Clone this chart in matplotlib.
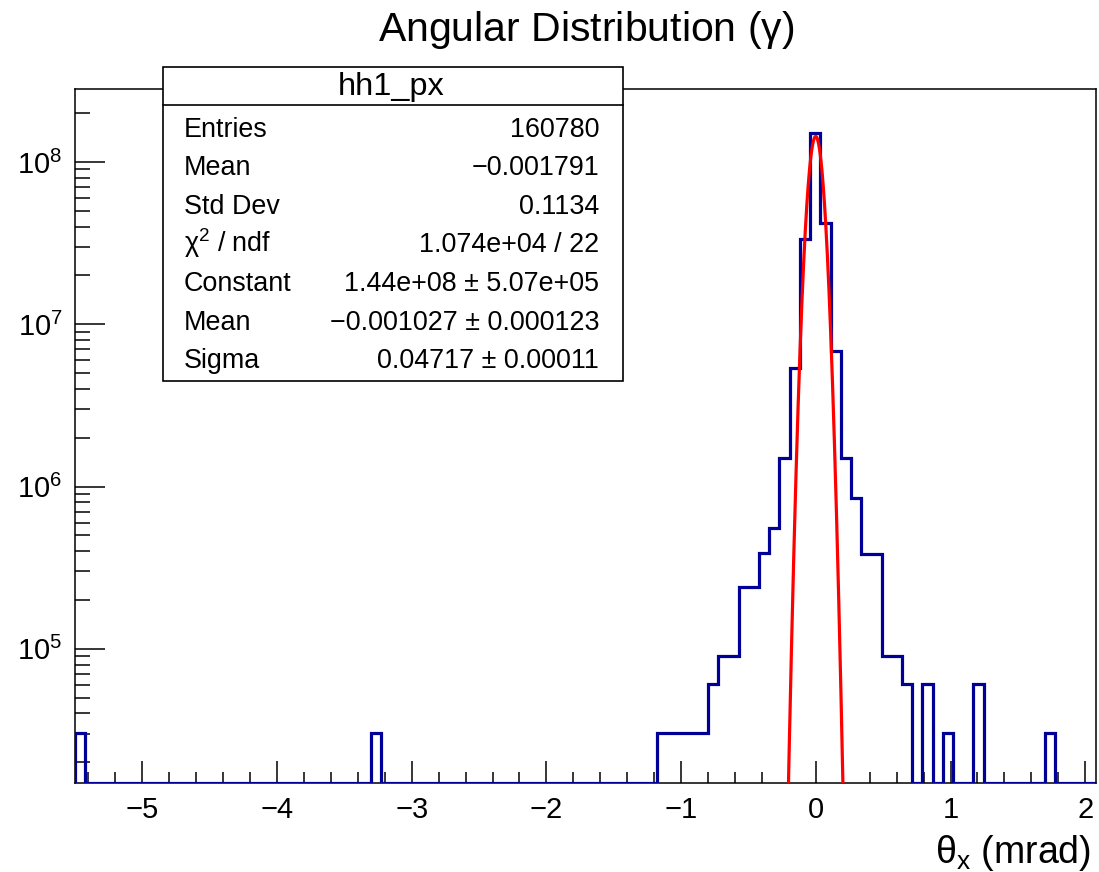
import numpy as np
import matplotlib
matplotlib.use('Agg')
import matplotlib.pyplot as plt
from matplotlib.patches import Rectangle
from matplotlib.lines import Line2D
from matplotlib.ticker import MultipleLocator, LogLocator, NullFormatter

plt.rcParams['font.family'] = ['Liberation Sans', 'DejaVu Sans']
plt.rcParams['mathtext.default'] = 'regular'

# histogram binning of theta_x (mrad)
x_lo, x_hi, n_bins = -5.5, 2.08, 100

# non-empty bins: bin index and weighted content
filled_bins = [0, 29, 57, 58, 59, 60, 61, 62, 63, 64, 65, 66, 67, 68, 69, 70,
               71, 72, 73, 74, 75, 76, 77, 78, 79, 80, 81, 83, 85, 88, 95]
filled_counts = [3.04e4, 3.04e4, 3.04e4, 3.04e4, 3.04e4, 3.04e4, 3.04e4,
                 6.1e4, 9.0e4, 9.0e4, 2.39e5, 2.39e5, 3.92e5, 5.58e5, 1.49e6,
                 5.38e6, 3.36e7, 1.51e8, 4.21e7, 6.81e6, 1.51e6, 8.55e5,
                 3.86e5, 3.86e5, 9.0e4, 9.0e4, 6.1e4, 6.1e4, 3.04e4, 6.1e4,
                 3.04e4]

# gaussian fit result
fit_const = 1.44e8
fit_mean = -0.001027
fit_sigma = 0.04717
fit_range = (-0.22, 0.22)

y_lo, y_hi = 1.49e4, 2.82e8

# stats box
stat_title = 'hh1_px'
stat_names = ['Entries', 'Mean', 'Std Dev', '$\\chi^{2}$ / ndf', 'Constant', 'Mean', 'Sigma']
stat_values = ['160780', '\u22120.001791', '0.1134', '1.074e+04 / 22',
               '1.44e+08 \u00b1 5.07e+05', '\u22120.001027 \u00b1 0.000123',
               '0.04717 \u00b1 0.00011']

W, H = 1099, 872
fig = plt.figure(figsize=(W / 100, H / 100), dpi=100)
ax = fig.add_axes([75 / W, 1 - 783 / H, (1096 - 75) / W, (783 - 89) / H])

edges = np.linspace(x_lo, x_hi, n_bins + 1)
counts = np.zeros(n_bins)
counts[filled_bins] = filled_counts
# empty bins sit on the frame bottom like ROOT draws them
shown = np.maximum(counts, y_lo)
ax.stairs(shown, edges, baseline=y_lo, color='#000099', lw=2.3, zorder=3)

xf = np.linspace(fit_range[0], fit_range[1], 400)
yf = fit_const * np.exp(-0.5 * ((xf - fit_mean) / fit_sigma) ** 2)
ax.plot(xf, yf, color='#ff0000', lw=2.3, zorder=4)

ax.set_yscale('log')
ax.set_xlim(x_lo, x_hi)
ax.set_ylim(y_lo, y_hi)

ax.xaxis.set_major_locator(MultipleLocator(1))
ax.xaxis.set_minor_locator(MultipleLocator(0.2))
ax.yaxis.set_major_locator(LogLocator(base=10))
ax.yaxis.set_minor_locator(LogLocator(base=10, subs=np.arange(2, 10)))
ax.yaxis.set_minor_formatter(NullFormatter())

ax.tick_params(axis='both', which='both', direction='in', top=False, right=False,
               width=1.1, colors='black', labelsize=21)
ax.tick_params(axis='x', which='major', length=15.8, pad=9)
ax.tick_params(axis='x', which='minor', length=7.9)
ax.tick_params(axis='y', which='major', length=21.6, pad=9)
ax.tick_params(axis='y', which='minor', length=10.8)
for s in ax.spines.values():
    s.set_linewidth(1.1)

ax.set_xlabel('$\\theta_{x}$ (mrad)', fontsize=27, loc='right', labelpad=7)
ax.xaxis.label.set_x(0.995)

fig.text(586 / W, 1 - 41 / H, 'Angular Distribution ($\\gamma$)', fontsize=29.5,
         ha='center', va='baseline')

# stats box
bx0, bx1, by0, by1 = 163, 623, 67.5, 381.5
fig.add_artist(Rectangle((bx0 / W, 1 - by1 / H), (bx1 - bx0) / W, (by1 - by0) / H,
                         transform=fig.transFigure, facecolor='white',
                         edgecolor='black', lw=1.2, zorder=10))
fig.add_artist(Line2D([bx0 / W, bx1 / W], [1 - 105.5 / H, 1 - 105.5 / H],
                      transform=fig.transFigure, color='black', lw=1.2, zorder=11))
fig.text(391 / W, 1 - 95.5 / H, stat_title, fontsize=23.4, ha='center',
         va='baseline', zorder=12)
for i, (name, val) in enumerate(zip(stat_names, stat_values)):
    yb = 1 - (136.7 + 38.6 * i) / H
    fig.text(184 / W, yb, name, fontsize=19.4, ha='left', va='baseline', zorder=12)
    fig.text(599 / W, yb, val, fontsize=19.4, ha='right', va='baseline', zorder=12)

fig.savefig('out.png', dpi=100)
